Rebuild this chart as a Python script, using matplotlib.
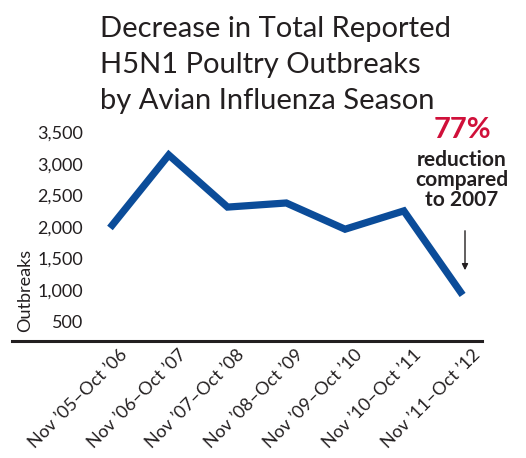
import matplotlib
matplotlib.use("Agg")
import matplotlib.pyplot as plt
from matplotlib.lines import Line2D
import matplotlib.transforms as mtrans

seasons = ["Nov ’05–Oct ’06", "Nov ’06–Oct ’07", "Nov ’07–Oct ’08", "Nov ’08–Oct ’09",
           "Nov ’09–Oct ’10", "Nov ’10–Oct ’11", "Nov ’11–Oct ’12"]
outbreaks = [1985, 3140, 2315, 2380, 1965, 2255, 925]
yticks = [500, 1000, 1500, 2000, 2500, 3000, 3500]
ytick_labels = ["500", "1,000", "1,500", "2,000", "2,500", "3,000", "3,500"]
title_lines = ["Decrease in Total Reported", "H5N1 Poultry Outbreaks", "by Avian Influenza Season"]

plt.rcParams['font.family'] = ['Lato', 'DejaVu Sans']
TXT = '#231f20'
W, H = 526, 458
fig = plt.figure(figsize=(W/100, H/100), dpi=100)

left, right, bottom, top = 90, 482, 341, 125
ax = fig.add_axes([left/W, (H-bottom)/H, (right-left)/W, (bottom-top)/H])
x = list(range(len(seasons)))
ax.plot(x, outbreaks, color='#0b4c99', lw=5.2, solid_joinstyle='miter', solid_capstyle='butt')
ax.set_xlim(-0.34, 6.33)
ax.set_ylim(196, 3614)
for s in ax.spines.values():
    s.set_visible(False)
ax.set_yticks(yticks)
ax.set_yticklabels(ytick_labels, fontsize=13, color=TXT)
ax.set_xticks(x)
ax.set_xticklabels(seasons, rotation=45, ha='right', va='top', rotation_mode='anchor',
                   fontsize=13, color=TXT)
ax.tick_params(axis='both', length=0)
ax.tick_params(axis='y', pad=5)
ax.tick_params(axis='x', pad=4)
offset = mtrans.ScaledTranslation(9/100, 0, fig.dpi_scale_trans)
for lab in ax.get_xticklabels():
    lab.set_transform(lab.get_transform() + offset)

fig.add_artist(Line2D([12/W, 482/W], [(H-341)/H]*2, color=TXT, lw=2.2))

fig.text(25/W, (H-290)/H, "Outbreaks", rotation=90, ha='center', va='center', fontsize=13, color=TXT)

for line, base in zip(title_lines, [37, 73, 109]):
    fig.text(100/W, (H-base)/H, line, ha='left', va='baseline', fontsize=21, color=TXT)

fig.text(462/W, (H-130)/H, "77%", ha='center', va='center', fontsize=21, fontweight='bold', color='#d0103a')
fig.text(462/W, (H-180)/H, "reduction\ncompared\nto 2007", ha='center', va='center', fontsize=15,
         fontweight='bold', color=TXT, linespacing=1.02)
ax.annotate("", xy=(465, H-273), xytext=(465, H-228), xycoords='figure pixels', textcoords='figure pixels',
            arrowprops=dict(arrowstyle='-|>', color=TXT, lw=1.0, mutation_scale=9))

fig.savefig("out.png", dpi=100)
